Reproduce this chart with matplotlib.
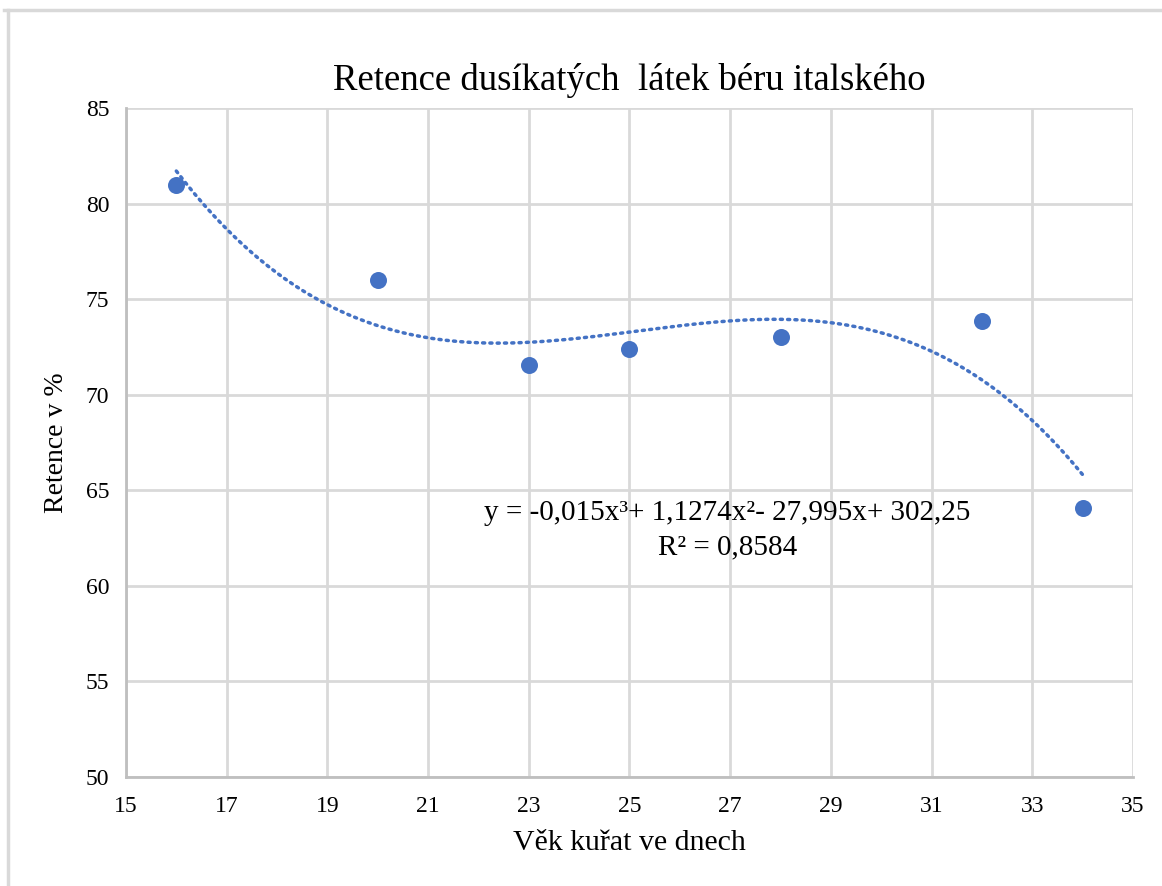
import numpy as np
import matplotlib.pyplot as plt
from matplotlib.lines import Line2D

# data
age = [16, 20, 23, 25, 28, 32, 34]
retention = [81.0, 76.0, 71.55, 72.4, 73.0, 73.85, 64.1]
x_ticks = [15, 17, 19, 21, 23, 25, 27, 29, 31, 33, 35]
y_ticks = [50, 55, 60, 65, 70, 75, 80, 85]
equation = 'y = -0,015x³+ 1,1274x²- 27,995x+ 302,25'
r_squared = 'R² = 0,8584'

plt.rcParams['font.family'] = ['Liberation Serif', 'DejaVu Serif']

blue = '#4472c4'
grid = '#d9d9d9'

fig = plt.figure(figsize=(11.62, 8.86), dpi=100)
ax = fig.add_axes([0.1084, 0.123, 0.8666, 0.755])

# outer chart frame (top and left edges visible)
fig.add_artist(Line2D([4/1162, 1], [1-10/886, 1-10/886], color='#d9d9d9', lw=2.5))
fig.add_artist(Line2D([8/1162, 8/1162], [0, 1-10/886], color='#d9d9d9', lw=2.5))

# cubic trendline
coef = np.polyfit(age, retention, 3)
xs = np.linspace(min(age), max(age), 300)
ax.plot(xs, np.polyval(coef, xs), color=blue, lw=2.5, linestyle=(0, (0.6, 1.5)),
        dash_capstyle='round', zorder=3)

ax.scatter(age, retention, s=150, color=blue, zorder=4, linewidths=0)

ax.set_xlim(15, 35)
ax.set_ylim(50, 85)
ax.set_xticks(x_ticks)
ax.set_yticks(y_ticks)
ax.grid(True, color=grid, lw=2)
ax.set_axisbelow(True)
for s in ['top', 'right']:
    ax.spines[s].set_visible(False)
for s in ['left', 'bottom']:
    ax.spines[s].set_color('#bfbfbf')
    ax.spines[s].set_linewidth(2)
ax.tick_params(length=0, labelsize=17, pad=14)
ax.tick_params(axis='y', pad=12)

ax.set_title('Retence dusíkatých  látek béru italského', fontsize=26.5, pad=13)
ax.set_xlabel('Věk kuřat ve dnech', fontsize=21.5, labelpad=9)
ax.set_ylabel('Retence v %', fontsize=20, labelpad=12)

ax.text(26.95, 63.8, equation, fontsize=21, ha='center', va='center')
ax.text(26.95, 62.0, r_squared, fontsize=21, ha='center', va='center')

fig.savefig('out.png', dpi=100)
